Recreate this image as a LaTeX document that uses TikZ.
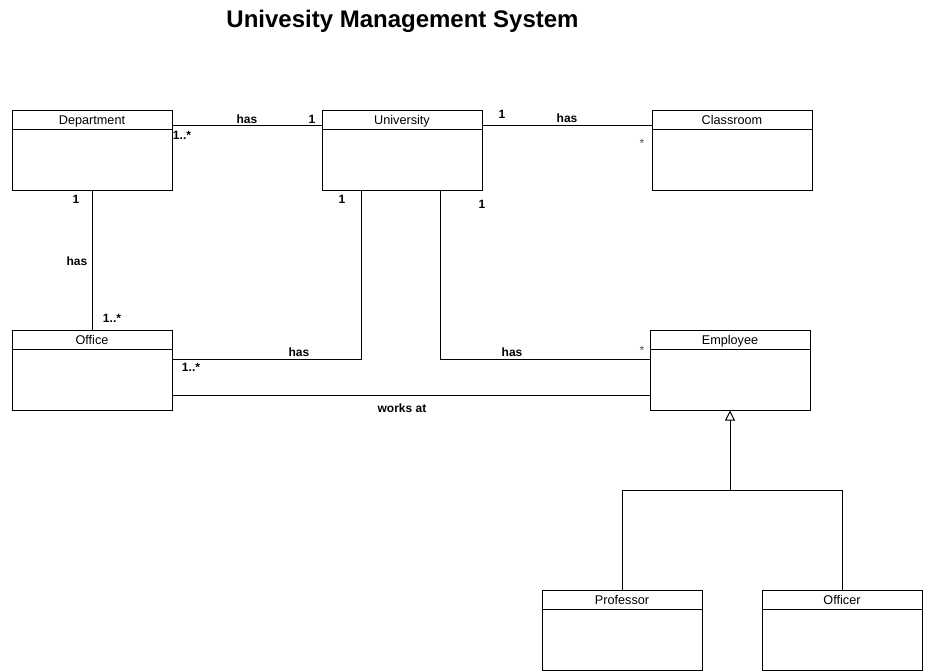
\documentclass[tikz,border=0pt]{standalone}
\usepackage{fontspec}
\setmainfont{Liberation Sans}
\usetikzlibrary{arrows.meta,calc}
\begin{document}
\begin{tikzpicture}[x=0.75pt,y=-0.75pt,
  cls/.style={draw, line width=0.75pt, minimum width=120pt, minimum height=60pt, inner sep=0pt},
  ttl/.style={font=\fontsize{9.5}{10}\selectfont, inner sep=0pt, anchor=base},
  lbl/.style={font=\bfseries\fontsize{9}{10}\selectfont, inner sep=0pt},
  mul/.style={font=\fontsize{9}{10}\selectfont, inner sep=0pt, text=black!70},
  conn/.style={line width=0.75pt},
  gen/.style={line width=0.75pt, -{Triangle[open, length=7.5pt, width=7.5pt]}}]
\useasboundingbox (0,0) rectangle (952,671);
\node[font=\bfseries\fontsize{18}{20}\selectfont, inner sep=0pt] (title) at (402.5,21) {Univesity Management System};
% classes
\node[cls] (dep) at (92,150) {};
\node[cls] (univ) at (402,150) {};
\node[cls] (cls) at (732,150) {};
\node[cls] (off) at (92,370) {};
\node[cls] (emp) at (730,370) {};
\node[cls] (prof) at (622,630) {};
\node[cls] (offc) at (842,630) {};
\foreach \n/\t in {dep/Department,univ/University,cls/Classroom,off/Office,emp/Employee,prof/Professor,offc/Officer}{
  \draw[conn] ($(\n.north west)+(0,20)$) -- ($(\n.north east)+(0,20)$);
  \node[ttl] at ($(\n.north)+(0,14.5)$) {\t};
}
% connectors
\draw[conn] ($(dep.north east)+(0,16)$) -- ($(univ.north west)+(0,16)$);
\draw[conn] ($(univ.north east)+(0,16)$) -- ($(cls.north west)+(0,16)$);
\draw[conn] (dep.south) -- (off.north);
\draw[conn] ($(univ.south west)+(40,0)$) |- ($(off.north east)+(0,30)$);
\draw[conn] ($(univ.south west)+(119,0)$) |- ($(emp.north west)+(0,30)$);
\draw[conn] ($(off.north east)+(0,66)$) -- ($(emp.north west)+(0,66)$);
\coordinate (j) at (730,490);
\draw[conn] (prof.north) |- (offc.north |- j) -- (offc.north);
\draw[gen] (j) -- (emp.south);
% labels
\node[lbl] at (247,119) {has};
\node[lbl] at (312,119) {1};
\node[lbl] at (182,135) {1..*};
\node[lbl] at (502,114) {1};
\node[lbl] at (567,118) {has};
\node[mul] at (642,143) {*};
\node[lbl] at (76,199) {1};
\node[lbl] at (77,261) {has};
\node[lbl] at (112,318) {1..*};
\node[lbl] at (342,199) {1};
\node[lbl] at (299,352) {has};
\node[lbl] at (191,367) {1..*};
\node[lbl] at (482,204) {1};
\node[lbl] at (512,352) {has};
\node[mul] at (642,350) {*};
\node[lbl] at (402,408) {works at};
\end{tikzpicture}
\end{document}
